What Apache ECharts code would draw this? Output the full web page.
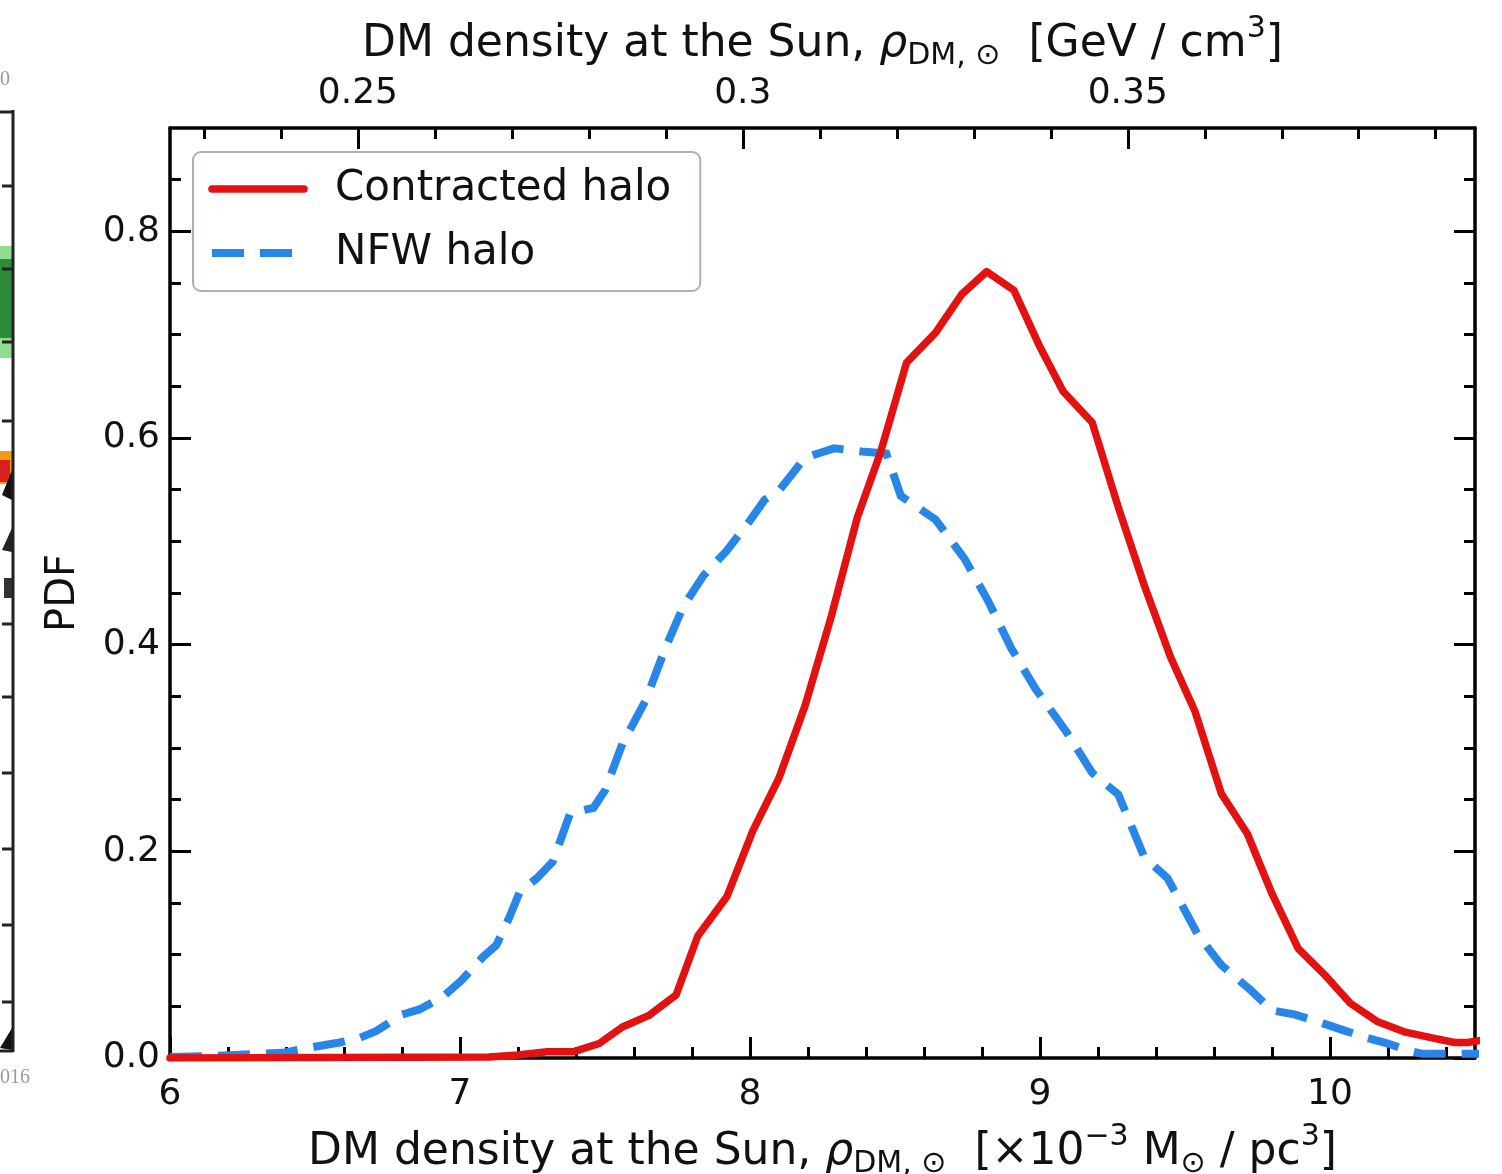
<!DOCTYPE html>
<html>
<head>
<meta charset="utf-8">
<script src="https://cdn.jsdelivr.net/npm/echarts@6/dist/echarts.min.js"></script>
<style>
  html, body { margin: 0; padding: 0; background: #ffffff; }
  #chart { width: 1502px; height: 1174px; }
</style>
</head>
<body>
<div id="chart"></div>
<script>
// ---------------- data ----------------
const seriesNames = ['Contracted halo', 'NFW halo'];

const contractedX = [6.00, 7.10, 7.20, 7.30, 7.39, 7.48, 7.56, 7.65, 7.745, 7.82, 7.92, 8.01, 8.10, 8.19, 8.28, 8.37, 8.45, 8.54, 8.64, 8.73, 8.816, 8.91, 9.00, 9.08, 9.18, 9.27, 9.36, 9.45, 9.535, 9.625, 9.715, 9.80, 9.89, 9.98, 10.07, 10.165, 10.26, 10.36, 10.43, 10.475, 10.52];
const contractedY = [0.000, 0.001, 0.003, 0.006, 0.006, 0.014, 0.030, 0.041, 0.061, 0.118, 0.156, 0.220, 0.271, 0.341, 0.427, 0.523, 0.586, 0.673, 0.702, 0.739, 0.761, 0.743, 0.688, 0.645, 0.615, 0.533, 0.457, 0.388, 0.335, 0.256, 0.217, 0.159, 0.106, 0.081, 0.053, 0.035, 0.025, 0.019, 0.015, 0.015, 0.017];

const nfwX = [6.00, 6.15, 6.31, 6.39, 6.48, 6.585, 6.65, 6.71, 6.80, 6.86, 6.94, 7.005, 7.08, 7.125, 7.17, 7.205, 7.265, 7.32, 7.38, 7.46, 7.50, 7.56, 7.64, 7.71, 7.77, 7.84, 7.92, 8.00, 8.05, 8.10, 8.19, 8.29, 8.385, 8.47, 8.52, 8.64, 8.74, 8.82, 8.90, 8.985, 9.09, 9.18, 9.27, 9.36, 9.44, 9.545, 9.625, 9.725, 9.80, 9.88, 9.96, 10.045, 10.12, 10.20, 10.27, 10.32, 10.45, 10.52];
const nfwY = [0.001, 0.002, 0.004, 0.005, 0.010, 0.015, 0.019, 0.026, 0.042, 0.047, 0.059, 0.075, 0.098, 0.109, 0.136, 0.160, 0.174, 0.190, 0.237, 0.242, 0.259, 0.304, 0.346, 0.398, 0.437, 0.467, 0.491, 0.520, 0.540, 0.549, 0.581, 0.590, 0.587, 0.585, 0.544, 0.521, 0.483, 0.443, 0.397, 0.357, 0.316, 0.276, 0.255, 0.194, 0.174, 0.119, 0.090, 0.066, 0.046, 0.042, 0.035, 0.027, 0.020, 0.014, 0.007, 0.004, 0.004, 0.004];

// axis ranges and ticks
const xRange = [6, 10.5];
const yRange = [0, 0.9];
const topRange = [0.2256, 0.3951];   // GeV / cm^3 equivalent of the bottom range

const bottomMajorTicks = [6, 7, 8, 9, 10];
const bottomMinorTicks = [6.2, 6.4, 6.6, 6.8, 7.2, 7.4, 7.6, 7.8, 8.2, 8.4, 8.6, 8.8, 9.2, 9.4, 9.6, 9.8, 10.2, 10.4];
const topMajorTicks = [0.25, 0.3, 0.35];
const topTickLabels = ['0.25', '0.3', '0.35'];
const topMinorTicks = [0.23, 0.24, 0.26, 0.27, 0.28, 0.29, 0.31, 0.32, 0.33, 0.34, 0.36, 0.37, 0.38, 0.39];
const yMajorTicks = [0, 0.2, 0.4, 0.6, 0.8];
const yTickLabels = ['0.0', '0.2', '0.4', '0.6', '0.8'];
const yMinorTicks = [0.05, 0.1, 0.15, 0.25, 0.3, 0.35, 0.45, 0.5, 0.55, 0.65, 0.7, 0.75, 0.85];

// ---------------- chart ----------------
const FONT = 'DejaVu Sans';
const RED = '#e3110f';
const BLUE = '#2886e8';
const RED_WIDTH = 7.5;
const BLUE_WIDTH = 8;
const BLUE_DASH = [32, 16];

function pairs(xs, ys) { return xs.map((x, i) => [x, ys[i]]); }

const rich = {
  i:   { fontFamily: FONT, fontSize: 44, fontStyle: 'italic', color: '#111' },
  sub: { fontFamily: FONT, fontSize: 30, color: '#111', padding: [23, 0, 0, 0] },
  sup: { fontFamily: FONT, fontSize: 30, color: '#111', padding: [0, 0, 31, 0] }
};

const majorTickStyle = { color: '#000', width: 3 };
const frameLine = { show: true, onZero: false, lineStyle: { color: '#000', width: 3.5 } };
const noLine = { show: false, onZero: false };

function majorAxis(position, range, ticks, labelOpt, nameOpt) {
  return Object.assign({
    type: 'value', position: position, min: range[0], max: range[1],
    axisLine: frameLine,
    axisTick: { show: true, inside: true, length: 21, lineStyle: majorTickStyle, customValues: ticks },
    minorTick: { show: false },
    splitLine: { show: false },
    axisLabel: labelOpt || { show: false }
  }, nameOpt || {});
}
function minorAxis(position, range, ticks) {
  return {
    type: 'value', position: position, min: range[0], max: range[1],
    axisLine: noLine,
    axisTick: { show: true, inside: true, length: 11, lineStyle: { color: '#000', width: 3 }, customValues: ticks },
    splitLine: { show: false },
    axisLabel: { show: false }
  };
}
function pick(ticks, labels) {
  return function (v) {
    const i = ticks.findIndex(t => Math.abs(t - v) < 1e-6);
    return i >= 0 ? labels[i] : '';
  };
}

const option = {
  backgroundColor: '#ffffff',
  animation: false,
  grid: { left: 170, right: 27, top: 128, bottom: 116, containLabel: false, outerBoundsMode: 'none' },
  legend: {
    data: [
      { name: seriesNames[0], itemStyle: { opacity: 0 },
        lineStyle: { color: RED, width: RED_WIDTH, type: 'solid', cap: 'round' } },
      { name: seriesNames[1], itemStyle: { opacity: 0 },
        lineStyle: { color: BLUE, width: BLUE_WIDTH, type: BLUE_DASH, cap: 'butt' } }
    ],
    orient: 'vertical',
    left: 193, top: 152,
    itemWidth: 92, itemHeight: 14, itemGap: 20,
    padding: [15, 29, 16, 15],
    backgroundColor: 'rgba(255,255,255,0.85)',
    borderColor: '#a8b4b4', borderWidth: 2, borderRadius: 8,
    textStyle: { fontFamily: FONT, fontSize: 42, color: '#111', lineHeight: 44, padding: [0, 0, 0, 26] }
  },
  xAxis: [
    majorAxis('bottom', xRange, bottomMajorTicks,
      { show: true, customValues: bottomMajorTicks, color: '#111', fontFamily: FONT, fontSize: 36, margin: 19 },
      {
        name: 'DM density at the Sun, {i|ρ}{sub|DM, ⊙}  [×10{sup|−3} M{sub|⊙} / pc{sup|3}]',
        nameLocation: 'middle', nameGap: 64,
        nameTextStyle: { fontFamily: FONT, fontSize: 44, color: '#111', rich: rich }
      }),
    minorAxis('bottom', xRange, bottomMinorTicks),
    majorAxis('top', topRange, topMajorTicks,
      { show: true, customValues: topMajorTicks, color: '#111', fontFamily: FONT, fontSize: 36, margin: 16,
        formatter: pick(topMajorTicks, topTickLabels) },
      {
        name: 'DM density at the Sun, {i|ρ}{sub|DM, ⊙}  [GeV / cm{sup|3}]',
        nameLocation: 'middle', nameGap: 46,
        nameTextStyle: { fontFamily: FONT, fontSize: 44, color: '#111', rich: rich }
      }),
    minorAxis('top', topRange, topMinorTicks)
  ],
  yAxis: [
    majorAxis('left', yRange, yMajorTicks,
      { show: true, customValues: yMajorTicks, color: '#111', fontFamily: FONT, fontSize: 36, margin: 10,
        formatter: pick(yMajorTicks, yTickLabels) },
      {
        name: 'PDF', nameLocation: 'middle', nameGap: 86,
        nameTextStyle: { fontFamily: FONT, fontSize: 40, color: '#111' }
      }),
    minorAxis('left', yRange, yMinorTicks),
    majorAxis('right', yRange, yMajorTicks, { show: false }),
    minorAxis('right', yRange, yMinorTicks)
  ],
  series: [
    {
      name: seriesNames[0], type: 'line', xAxisIndex: 0, yAxisIndex: 0,
      data: pairs(contractedX, contractedY),
      showSymbol: false, symbol: 'none', clip: true, z: 3,
      lineStyle: { color: RED, width: RED_WIDTH, join: 'round', cap: 'round' },
      itemStyle: { color: RED }
    },
    {
      name: seriesNames[1], type: 'line', xAxisIndex: 0, yAxisIndex: 0,
      data: pairs(nfwX, nfwY),
      showSymbol: false, symbol: 'none', clip: true, z: 2,
      lineStyle: { color: BLUE, width: BLUE_WIDTH, type: BLUE_DASH, cap: 'butt', join: 'miter' },
      itemStyle: { color: BLUE }
    }
  ],
  // fragment of the neighbouring panel visible at the left edge of the picture
  graphic: [
    { type: 'rect', shape: { x: 0, y: 246, width: 13, height: 112 }, style: { fill: '#8fdc8f' }, silent: true },
    { type: 'rect', shape: { x: 0, y: 259, width: 13, height: 79 }, style: { fill: '#2e8b3a' }, silent: true },
    { type: 'rect', shape: { x: 0, y: 451, width: 13, height: 33 }, style: { fill: '#f29a1a' }, silent: true },
    { type: 'rect', shape: { x: 0, y: 460, width: 10, height: 22 }, style: { fill: '#d9221c' }, silent: true },
    { type: 'polygon', shape: { points: [[2, 495], [12, 470], [12, 500]] }, style: { fill: '#111' }, silent: true },
    { type: 'polygon', shape: { points: [[2, 550], [12, 528], [12, 552]] }, style: { fill: '#222' }, silent: true },
    { type: 'rect', shape: { x: 4, y: 578, width: 8, height: 20 }, style: { fill: '#333' }, silent: true },
    { type: 'polygon', shape: { points: [[0, 1048], [12, 1028], [12, 1050]] }, style: { fill: '#111' }, silent: true },
    { type: 'line', shape: { x1: 13, y1: 110, x2: 13, y2: 1052 }, style: { stroke: '#222', lineWidth: 3 }, silent: true },
    { type: 'line', shape: { x1: 0, y1: 112, x2: 13, y2: 112 }, style: { stroke: '#222', lineWidth: 3 }, silent: true },
    { type: 'line', shape: { x1: 0, y1: 1051, x2: 13, y2: 1051 }, style: { stroke: '#222', lineWidth: 3 }, silent: true },
    { type: 'line', shape: { x1: 2, y1: 186, x2: 13, y2: 186 }, style: { stroke: '#222', lineWidth: 3 }, silent: true },
    { type: 'line', shape: { x1: 2, y1: 269, x2: 13, y2: 269 }, style: { stroke: '#222', lineWidth: 3 }, silent: true },
    { type: 'line', shape: { x1: 2, y1: 342, x2: 13, y2: 342 }, style: { stroke: '#222', lineWidth: 3 }, silent: true },
    { type: 'line', shape: { x1: 2, y1: 421, x2: 13, y2: 421 }, style: { stroke: '#222', lineWidth: 3 }, silent: true },
    { type: 'line', shape: { x1: 2, y1: 624, x2: 13, y2: 624 }, style: { stroke: '#222', lineWidth: 3 }, silent: true },
    { type: 'line', shape: { x1: 2, y1: 697, x2: 13, y2: 697 }, style: { stroke: '#222', lineWidth: 3 }, silent: true },
    { type: 'line', shape: { x1: 2, y1: 773, x2: 13, y2: 773 }, style: { stroke: '#222', lineWidth: 3 }, silent: true },
    { type: 'line', shape: { x1: 2, y1: 849, x2: 13, y2: 849 }, style: { stroke: '#222', lineWidth: 3 }, silent: true },
    { type: 'line', shape: { x1: 2, y1: 925, x2: 13, y2: 925 }, style: { stroke: '#222', lineWidth: 3 }, silent: true },
    { type: 'line', shape: { x1: 2, y1: 1002, x2: 13, y2: 1002 }, style: { stroke: '#222', lineWidth: 3 }, silent: true },
    { type: 'text', left: 0, top: 70, style: { text: '0', fontFamily: 'Liberation Serif', fontSize: 20, fill: '#999' }, silent: true },
    { type: 'text', left: 0, top: 1068, style: { text: '016', fontFamily: 'Liberation Serif', fontSize: 20, fill: '#999' }, silent: true }
  ]
};

const chart = echarts.init(document.getElementById('chart'), null, { renderer: 'canvas' });
chart.setOption(option);
</script>
</body>
</html>
